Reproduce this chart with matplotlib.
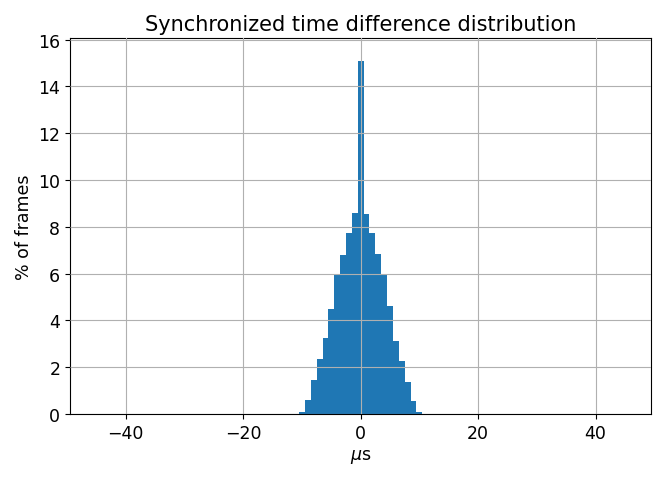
import numpy as np
import matplotlib
matplotlib.use('Agg')
import matplotlib.pyplot as plt

plt.rcParams['font.size'] = 12.5

# bin centres (microseconds) and share of frames in each bin (%)
bin_centres = np.arange(-10, 11)
percent_frames = [0.07, 0.60, 1.46, 2.35, 3.24, 4.49, 5.96, 6.80, 7.72, 8.57,
                  15.09,
                  8.53, 7.72, 6.82, 5.92, 4.61, 3.12, 2.25, 1.38, 0.57, 0.10]
bin_edges = np.arange(-10.5, 11.5, 1.0)

fig = plt.figure(figsize=(6.64, 4.81), dpi=100)
ax = fig.add_axes([0.1054, 0.1372, 0.981 - 0.1054, 0.919 - 0.1372])
ax.hist(bin_centres, bins=bin_edges, weights=percent_frames, color='#1f77b4')
ax.set_xlim(-49.5, 49.5)
ax.set_ylim(0, 16.07)
ax.set_xticks([-40, -20, 0, 20, 40])
ax.set_yticks(np.arange(0, 17, 2))
ax.grid(True, color='#b0b0b0')
ax.set_axisbelow(False)
ax.set_title('Synchronized time difference distribution', fontsize=15)
ax.set_xlabel(r'$\mu$s')
ax.set_ylabel('% of frames')

fig.savefig('out.png', dpi=100)
